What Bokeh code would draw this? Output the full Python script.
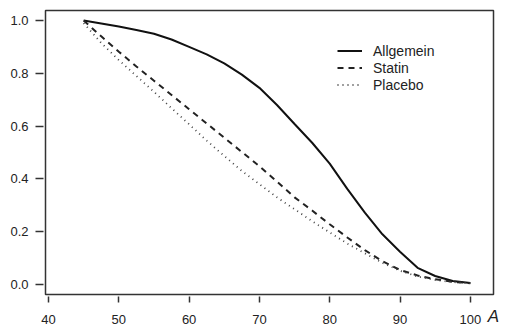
from bokeh.plotting import figure
from bokeh.models import Range1d, Legend, LegendItem, NumeralTickFormatter, FixedTicker
from bokeh.embed import file_html
from bokeh.resources import INLINE

ages = [45, 47.5, 50, 52.5, 55, 57.5, 60, 62.5, 65, 67.5, 70, 72.5, 75, 77.5,
        80, 82.5, 85, 87.5, 90, 92.5, 95, 97.5, 100]
allgemein = [1.000, 0.989, 0.977, 0.964, 0.950, 0.928, 0.900, 0.872, 0.838, 0.795,
             0.745, 0.680, 0.608, 0.537, 0.458, 0.362, 0.272, 0.190, 0.124, 0.063,
             0.032, 0.013, 0.006]
statin = [1.000, 0.940, 0.882, 0.826, 0.772, 0.718, 0.664, 0.610, 0.556, 0.502,
          0.448, 0.390, 0.330, 0.280, 0.228, 0.178, 0.130, 0.088, 0.055, 0.034,
          0.020, 0.010, 0.005]
placebo = [0.990, 0.915, 0.850, 0.790, 0.730, 0.668, 0.607, 0.545, 0.487, 0.430,
           0.380, 0.330, 0.285, 0.240, 0.197, 0.155, 0.118, 0.082, 0.052, 0.030,
           0.017, 0.009, 0.005]
x_ticks = [40, 50, 60, 70, 80, 90, 100]
y_ticks = [0.0, 0.2, 0.4, 0.6, 0.8, 1.0]
series_names = ["Allgemein", "Statin", "Placebo"]
x_label = "A"

FONT = "Liberation Sans"

p = figure(frame_width=448, frame_height=284, output_backend="svg", toolbar_location=None,
           x_range=Range1d(39.57, 103.3), y_range=Range1d(-0.038, 1.038),
           min_border_left=45, min_border_right=14, min_border_top=10, min_border_bottom=36)
p.background_fill_color = "white"
p.border_fill_color = "white"
p.outline_line_color = "#333333"
p.outline_line_width = 1.5
p.xgrid.visible = False
p.ygrid.visible = False

for ax in (p.xaxis[0], p.yaxis[0]):
    ax.axis_line_color = None
    ax.major_tick_line_color = "#333333"
    ax.major_tick_line_width = 1.5
    ax.minor_tick_line_color = None
    ax.major_label_text_font = FONT
    ax.major_label_text_font_size = "13px"
    ax.major_label_text_color = "#222222"

p.xaxis[0].ticker = FixedTicker(ticks=x_ticks)
p.xaxis[0].major_tick_in = -2
p.xaxis[0].major_tick_out = 8
p.xaxis[0].major_label_standoff = 12
# truncated x-axis title: only its first letter is visible in the reference
p.xaxis[0].axis_label = x_label
p.xaxis[0].axis_label_align = "end"
p.xaxis[0].axis_label_standoff = -20
p.xaxis[0].axis_label_text_font = FONT
p.xaxis[0].axis_label_text_font_size = "17px"
p.xaxis[0].axis_label_text_font_style = "italic"
p.xaxis[0].axis_label_text_color = "#222222"

p.yaxis[0].ticker = FixedTicker(ticks=y_ticks)
p.yaxis[0].formatter = NumeralTickFormatter(format="0.0")
p.yaxis[0].major_tick_in = -2
p.yaxis[0].major_tick_out = 10
p.yaxis[0].major_label_standoff = 7

r1 = p.line(ages, allgemein, line_color="#111111", line_width=2)
r2 = p.line(ages, statin, line_color="#222222", line_width=2, line_dash="6 5")
r3 = p.line(ages, placebo, line_color="#444444", line_width=1.8, line_dash="1 4")

legend = Legend(items=[LegendItem(label=series_names[0], renderers=[r1]),
                       LegendItem(label=series_names[1], renderers=[r2]),
                       LegendItem(label=series_names[2], renderers=[r3])],
                location=(292, 201), orientation="vertical")
legend.background_fill_alpha = 0
legend.border_line_color = None
legend.padding = 0
legend.margin = 0
legend.spacing = 0
legend.glyph_width = 25
legend.glyph_height = 17
legend.label_height = 17
legend.label_standoff = 11
legend.label_text_font = FONT
legend.label_text_font_size = "14px"
legend.label_text_color = "#222222"
p.add_layout(legend, "center")

open("out.html", "w").write(file_html(p, INLINE))
